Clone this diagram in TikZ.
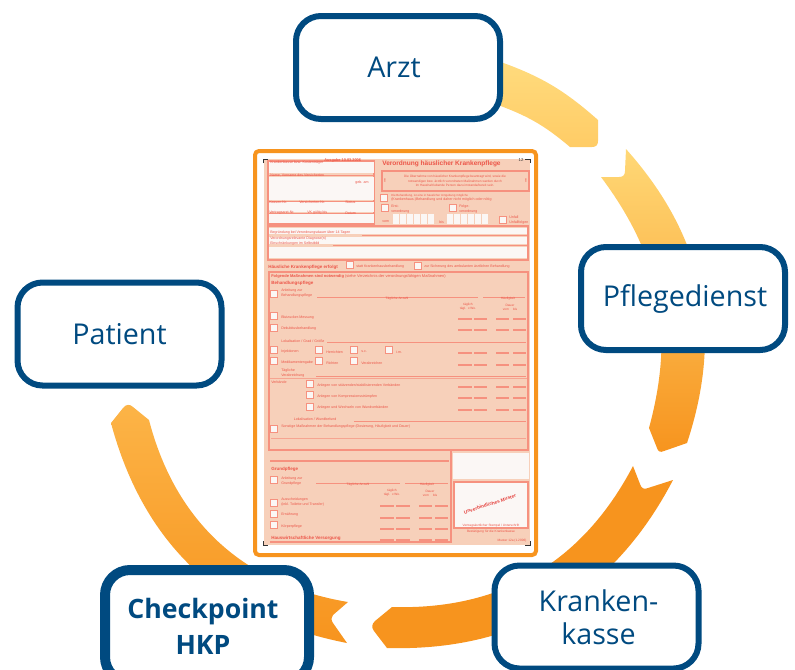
\documentclass[tikz,border=0pt]{standalone}
\usepackage{fontspec}
\setmainfont{Open Sans}
\newfontfamily\formfont{Liberation Sans}
\definecolor{hkpblue}{HTML}{004A80}
\definecolor{frameorange}{HTML}{F7941E}
\definecolor{formbg}{HTML}{F7D0BA}
\definecolor{formred}{HTML}{EC5548}
\definecolor{stampred}{HTML}{E5433F}
\definecolor{formline}{HTML}{F6917F}
\definecolor{formwhite}{HTML}{FBF7F5}
\definecolor{ringa}{HTML}{FFDB7D}
\definecolor{ringb}{HTML}{FFCC66}
\definecolor{ringc}{HTML}{FFD876}
\definecolor{ringd}{HTML}{F9A02A}
\definecolor{ringe}{HTML}{FCB447}
\def\px{0.75pt}
\newcounter{ftc}
\tikzset{
  stationbox/.style={draw=hkpblue,fill=white,line width=6*\px,rounded corners=25*\px,
    minimum width=204*\px,minimum height=103*\px,inner sep=0pt,align=center,
    text=hkpblue,font=\fontsize{21.5}{25}\selectfont},
  ftxt/.style={anchor=west,inner sep=0pt,text=formred,align=left,font=\formfont\fontsize{2.7}{3.4}\selectfont},
  fhead/.style={anchor=west,inner sep=0pt,text=formred,font=\formfont\bfseries\fontsize{3.4}{3.9}\selectfont},
  fcentre/.style={anchor=center,inner sep=0pt,text=formred,align=center,font=\formfont\fontsize{2.4}{3.3}\selectfont},
  fbox/.style={draw=formline,line width=0.8pt},
  frow/.style={draw=formline,line width=0.6pt},
  fdash/.style={draw=formline,line width=0.8pt},
  fwhite/.style={fill=formwhite},
  corner/.style={draw=black!80,line width=0.7pt},
}
\newcommand\FT[3]{\stepcounter{ftc}\node[ftxt] (ft\arabic{ftc}) at (#1,#2) {#3};}
\newcommand\FH[3]{\stepcounter{ftc}\node[fhead] (ft\arabic{ftc}) at (#1,#2) {#3};}
\newcommand\FC[3]{\stepcounter{ftc}\node[fcentre] (ft\arabic{ftc}) at (#1,#2) {#3};}
\newcommand\CB[2]{\draw[draw=formline,fill=formwhite,line width=0.5pt] (#1-3.2,#2-3.2) rectangle (#1+3.2,#2+3.2);}
\newcommand\DR[1]{\foreach \a/\b in {458/472,474/487,496/509,513/526}{\draw[fdash] (\a,#1) -- (\b,#1);}}
\newcommand\DG[1]{\foreach \a/\b in {380/394,396/410,419/432,435/448}{\draw[fdash] (\a,#1) -- (\b,#1);}}
\begin{document}
\begin{tikzpicture}[x=0.75pt,y=-0.75pt]
\useasboundingbox (0,0) rectangle (795,669);
% ring arrows
\shade[top color=ringa,bottom color=ringb] (498,61) to[bend left=11] (598,120) -- (598,141)
  .. controls (598,145) and (596,147) .. (592,147) -- (570,147) to[bend right=10] (498,105) -- cycle;
\shade[top color=ringc,middle color=ringd,bottom color=frameorange] (626,149) to[bend left=30] (687,443) -- (664,451)
  .. controls (660,453) and (658,451) .. (657,448) -- (649,428) to[bend right=26] (601,177) -- (619,177)
  .. controls (623,177) and (625,175) .. (625,171) -- cycle;
\fill[frameorange] (633,466) -- (640,484) .. controls (641,488) and (644,490) .. (648,488) -- (673,480)
  to[bend left=32] (387,648) -- (374,631) .. controls (371,627) and (372,624) .. (375,621) -- (392,607)
  to[bend right=32] (633,466) -- cycle;
\shade[top color=ringe,bottom color=frameorange] (348,602) -- (333,615) .. controls (331,617) and (331,620) .. (333,623)
  -- (347,643) to[bend left=32] (111,423) -- (123,408) .. controls (126,404) and (130,404) .. (133,407)
  -- (149,420) to[bend right=33] (348,602) -- cycle;
% form
\fill[white] (256,152) rectangle (535,554);
\fill[formbg] (264,159) rectangle (530,545);
% patient block
\draw[fbox] (268,161) rectangle (374,224);
\fill[fwhite] (269,162) rectangle (374,173);
\fill[fwhite] (269,177) rectangle (374,200);
\fill[fwhite] (269,202) rectangle (374,212);
\fill[fwhite] (269,214) rectangle (374,223);
\draw[frow] (269,175) -- (374,175) (269,201) -- (374,201) (269,213) -- (374,213);
\FT{270}{163}{Krankenkasse bzw. Kostenträger}
\FT{270}{175}{Name, Vorname des Versicherten}
\FT{355}{183}{geb. am}
\FT{269}{202}{Kassen-Nr.}
\FT{299}{202}{Versicherten-Nr.}
\FT{345}{202}{Status}
\FT{269}{213}{Vertragsarzt-Nr.}
\FT{307}{213}{VK gültig bis}
\FT{345}{213}{Datum}
\FH{324}{160}{\fontsize{2.9}{3.4}\selectfont Ausgabe 10.03.2006}
% header
\FH{382}{164}{\fontsize{4.9}{5.6}\selectfont Verordnung häuslicher Krankenpflege}
\draw[fbox] (382,171) rectangle (529,191);
\FC{455}{181}{Die Übernahme von häuslicher Krankenpflege beantragt wird, sowie die\\notwendigen bzw. ärztlich verordneten Maßnahmen werden durch\\im Haushalt lebende Person dazu imstande/bereit sein.}
\FC{385}{181}{\fontsize{4}{4}\selectfont\bfseries !}
\FC{526}{181}{\fontsize{4}{4}\selectfont\bfseries !}
\CB{384}{198}
\FT{391}{198}{\fontsize{2.2}{3.2}\selectfont Die Behandlung, ist eine in häuslicher Umgebung mögliche\\ (Krankenhaus-)Behandlung und daher nicht möglich oder nötig}
\CB{385}{208}
\FT{391}{209}{Erst-\\verordnung}
\CB{453}{208}
\FT{459}{209}{Folge-\\verordnung}
\FT{382}{222}{vom}
\FT{439}{222}{bis}
\foreach \i in {0,...,5}{\fill[fwhite] (393+\i*7,214) rectangle (398.5+\i*7,224); \fill[fwhite] (447+\i*7,214) rectangle (452.5+\i*7,224);}
\CB{503}{220}
\FT{509}{220}{Unfall\\Unfallfolgen}
% justification block
\draw[fbox] (268,226) rectangle (528,260);
\fill[fwhite] (269,228) rectangle (527,234);
\fill[fwhite] (269,237) rectangle (527,244);
\fill[fwhite] (269,247) rectangle (527,258);
\draw[frow] (362,235.5) -- (527,235.5) (333,245.5) -- (527,245.5);
\FT{270}{233}{Begründung bei Verordnungsdauer über 14 Tagen}
\FT{270}{241}{Verordnungsrelevante Diagnose(n)\\Einschränkungen im Selbstbild}
\FH{268}{267}{Häusliche Krankenpflege erfolgt}
\CB{350}{265}
\FT{356}{267}{statt Krankenhausbehandlung}
\CB{418}{266}
\FT{424}{267}{zur Sicherung des ambulanten ärztlichen Behandlung}
% treatment block
\draw[fbox] (269,272) rectangle (528,450);
\FH{271}{276}{\fontsize{3}{3.4}\selectfont Folgende Maßnahmen sind notwendig \mdseries (siehe Verzeichnis der verordnungsfähigen Maßnahmen)}
\FH{271}{283}{Behandlungspflege}
\CB{274}{294}
\FT{281}{293}{Anleitung zur\\Behandlungspflege}
\draw[frow] (317,297) -- (478,297) (483,297) -- (525,297);
\FC{397}{299}{Tägliche Anzahl}
\FC{508}{299}{Häufigkeit}
\FC{468}{305}{täglich}
\FC{468}{309}{tägl. \ x Wo.}
\FC{510}{305}{Dauer}
\FC{510}{309}{vom \quad bis}
\CB{274}{316}\FT{281}{318}{Blutzucker-Messung}\DR{319}
\CB{274}{328}\FT{281}{329}{Dekubitusbehandlung}\DR{330}
\FT{281}{341}{Lokalisation / Grad / Größe}
\draw[frow] (327,342) -- (526,342);
\CB{274}{350}\FT{281}{352}{Injektionen}
\CB{319}{350}\FT{326}{352}{Herrichten}
\CB{354}{350}\FT{361}{352}{s.c.}
\CB{389}{350}\FT{396}{352}{i.m.}
\DR{353}
\CB{274}{361}\FT{281}{363}{Medikamentengabe}
\CB{319}{361}\FT{326}{363}{Richten}
\CB{354}{361}\FT{361}{363}{Verabreichen}
\DR{365}
\FT{281}{373}{Tägliche\\Verabreichung}
\draw[frow] (316,376) -- (526,376);
\draw[frow,draw=formline!70!formbg] (270,378) -- (527,378);
\FT{271}{382}{Verbände}
\CB{310}{384}\FT{317}{386}{Anlegen von stützenden/stabilisierenden Verbänden}\DR{387}
\CB{310}{395}\FT{317}{397}{Anlegen von Kompressionsstrümpfen}\DR{398}
\CB{310}{407}\FT{317}{408}{Anlegen und Wechseln von Wundverbänden}\DR{410}
\FT{307}{419.5}{\hspace{-10pt}Lokalisation / Wundbefund}
\draw[frow] (354,421) -- (526,421);
\CB{274}{429}\FT{281}{427}{Sonstige Maßnahmen der Behandlungspflege (Dosierung, Häufigkeit und Dauer)}
\draw[frow,draw=formline!70!formbg] (271,438.5) -- (526,438.5);
\draw[fbox,line width=1pt] (270,450) -- (528,450);
\draw[fbox,line width=1pt] (270,461) -- (449,461);
% lower right
\draw[fbox] (451,450) -- (451,543);
\fill[fwhite] (453,453) rectangle (529,479);
\draw[fbox,fill=formwhite] (454,482) rectangle (528,528);
\node[text=stampred,inner sep=0pt,rotate=18,font=\formfont\bfseries\fontsize{3.6}{4}\selectfont] (stamp) at (490,504) {Unverbindliches Muster};
\FC{491}{526}{Vertragsärztlicher Stempel / Unterschrift}
\FC{491}{532}{Bestätigung für die Krankenkasse}
\FC{512}{541}{Muster 12a (1.2006)}
% basic care
\FH{271}{469}{Grundpflege}
\CB{274}{480}\FT{281}{481}{Anleitung zur\\Grundpflege}
\draw[frow] (316,483) -- (400,483) (405,483) -- (448,483);
\FC{358}{485}{Tägliche Anzahl}
\FC{427}{485}{Häufigkeit}
\FC{392}{491}{täglich}
\FC{392}{495}{tägl. \ x Wo.}
\FC{430}{491}{Dauer}
\FC{430}{495}{vom \quad bis}
\CB{274}{503}\FT{281}{502}{Ausscheidungen\\(inkl. Toilette und Transfer)}\DG{506}
\CB{274}{514}\FT{281}{515}{Ernährung}\DG{518}
\CB{274}{525}\FT{281}{527}{Körperpflege}\DG{529}
\FH{271}{538}{Hauswirtschaftliche Versorgung}
\DG{540}
\draw[fbox] (270,542) -- (451,542);
% corner marks
\draw[corner] (263,163) -- (263,159) -- (268,159);
\draw[corner] (525,159) -- (530,159) -- (530,163);
\draw[corner] (263,541) -- (263,545) -- (268,545);
\draw[corner] (525,545) -- (530,545) -- (530,541);
\node[inner sep=0pt,text=black!80,font=\formfont\fontsize{3.2}{4}\selectfont] (formno) at (521,160.5) {12};
% frame
\node[draw=frameorange,line width=4*\px,rounded corners=4*\px,minimum width=281*\px,minimum height=404*\px,inner sep=0pt] (form) at (395.5,353) {};
% station boxes
\node[stationbox] (arzt) at (398,67.5) {\hspace*{-6pt}Arzt};
\node[stationbox] (pflege) at (683,298.5) {\hspace*{3pt}Pflegedienst};
\node[stationbox] (kasse) at (596.5,617) {\hspace*{3pt}Kranken-\\\hspace*{3pt}kasse};
\node[stationbox] (patient) at (119.5,334) {Patient};
\node[stationbox,line width=10*\px,minimum width=204*\px,minimum height=112*\px,font=\bfseries\fontsize{20}{27}\selectfont] (check) at (207,626) {\hspace*{-6pt}Checkpoint\\\hspace*{-6pt}HKP};
\end{tikzpicture}
\end{document}
